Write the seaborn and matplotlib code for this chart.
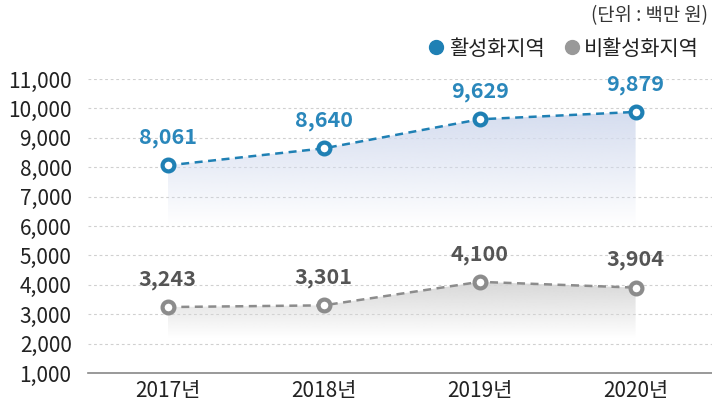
import numpy as np
import pandas as pd
import seaborn as sns
import matplotlib.pyplot as plt
from matplotlib.lines import Line2D
from matplotlib.colors import to_rgb

years = ["2017년", "2018년", "2019년", "2020년"]
active = [8061, 8640, 9629, 9879]
inactive = [3243, 3301, 4100, 3904]
series_names = ["활성화지역", "비활성화지역"]
yticks = list(range(1000, 12000, 1000))

BLUE = "#1f80b4"
BLUE_TXT = "#2a87bb"
GRAY = "#8c8c8c"
GRAY_TXT = "#555555"

df = pd.DataFrame({
    "year": years * 2,
    "idx": list(range(len(years))) * 2,
    "value": active + inactive,
    "series": [series_names[0]] * len(years) + [series_names[1]] * len(years),
})

sns.set_style("white")
plt.rcParams["font.family"] = ["Noto Sans CJK KR", "DejaVu Sans"]

fig = plt.figure(figsize=(7.12, 4.05), dpi=100)
ax = fig.add_axes([0.124, 0.079, 0.876, 0.726])


def gradient_fill(ax, x, y, color, top, bottom):
    poly = ax.fill_between(x, y, bottom, facecolor="none", edgecolor="none")
    rgb = to_rgb(color)
    n = 256
    img = np.ones((n, 1, 4))
    img[:, 0, :3] = rgb
    img[:, 0, 3] = np.linspace(1, 0, n)
    im = ax.imshow(img, aspect="auto", origin="upper",
                   extent=[min(x), max(x), bottom, top], zorder=1)
    im.set_clip_path(poly.get_paths()[0], transform=ax.transData)


colors = {series_names[0]: BLUE, series_names[1]: GRAY}
txt_colors = {series_names[0]: BLUE_TXT, series_names[1]: GRAY_TXT}
fills = {series_names[0]: ("#d4dcef", 10000, 6000),
         series_names[1]: ("#d6d6d6", 4200, 2200)}

for name in series_names:
    sub = df[df["series"] == name]
    fc, top, bottom = fills[name]
    gradient_fill(ax, sub["idx"].values, sub["value"].values, fc, top, bottom)
    sns.lineplot(data=sub, x="idx", y="value", ax=ax, color=colors[name],
                 linestyle=(0, (3.2, 2.2)), linewidth=1.8, marker="o",
                 markersize=8.5, markerfacecolor="white",
                 markeredgecolor=colors[name], markeredgewidth=3,
                 zorder=3, legend=False)
    for i, v in zip(sub["idx"], sub["value"]):
        ax.annotate(f"{v:,}", (i, v), xytext=(0, 20), textcoords="offset points",
                    ha="center", va="center", fontsize=15.5, fontweight="bold",
                    color=txt_colors[name])

ax.set_xlim(-0.51, 3.49)
ax.set_ylim(1000, 11000)
ax.set_yticks(yticks)
ax.set_yticklabels([f"{t:,}" for t in yticks], fontsize=15, color="#222222")
ax.set_xticks(range(len(years)))
ax.set_xticklabels(years, fontsize=15, color="#222222")
ax.set_xlabel("")
ax.set_ylabel("")
ax.tick_params(axis="both", length=0, pad=5)
ax.tick_params(axis="y", pad=12)

for t in yticks[1:]:
    ax.axhline(t, color="#d0d0d0", linewidth=0.8, linestyle=(0, (2.5, 2.5)), zorder=0)

for s in ["top", "right", "left"]:
    ax.spines[s].set_visible(False)
ax.spines["bottom"].set_color("#888888")
ax.spines["bottom"].set_linewidth(1.2)

fig.text(0.995, 0.962, "(단위 : 백만 원)", ha="right", va="center",
         fontsize=13.5, color="#333333")

handles = [Line2D([], [], linestyle="none", marker="o", markersize=10,
                  markerfacecolor=BLUE, markeredgecolor=BLUE),
           Line2D([], [], linestyle="none", marker="o", markersize=10,
                  markerfacecolor="#999999", markeredgecolor="#999999")]
fig.legend(handles, series_names, loc="center right", bbox_to_anchor=(1.008, 0.88),
           ncol=2, frameon=False, fontsize=15, handletextpad=0.1,
           columnspacing=0.8, handlelength=1.0, labelcolor="#222222")

fig.savefig("out.png", dpi=100)
